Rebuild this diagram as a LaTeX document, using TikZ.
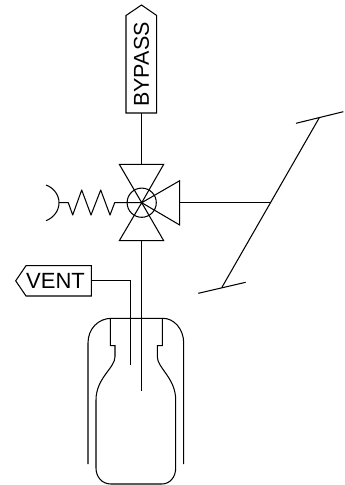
\documentclass[tikz,border=0pt]{standalone}
\usepackage{fontspec}
\setmainfont{Liberation Sans}
\tikzset{
  ln/.style={draw=black,line width=1.05pt,line join=miter},
  tagtext/.style={inner sep=0pt,text=black,anchor=center}
}
\begin{document}
\begin{tikzpicture}[x=1pt,y=-1pt]
\useasboundingbox (0,0) rectangle (345,485);
% key points
\coordinate (vc) at (141.7,202.7);
\coordinate (bypassfoot) at (141.7,113);
\coordinate (venteast) at (91.3,280.5);
\coordinate (ventelbow) at (130.7,280.5);
\coordinate (ventend) at (130.7,365);
\coordinate (dipend) at (141.7,390.5);
\coordinate (rodtop) at (319.3,117.7);
\coordinate (rodbot) at (221.7,287.7);
\coordinate (rodmid) at (270,202.7);
% BYPASS tag
\draw[ln] (126,113) -- (126,15.5) -- (141.5,5) -- (156.7,15.5) -- (156.7,113) -- cycle;
\node[tagtext,rotate=90,font=\fontsize{21.5}{21.5}\selectfont] (bypass) at (141.5,64.5) {BYPASS};
% VENT tag
\draw[ln] (91.3,265.7) -- (26,265.7) -- (15.7,280.8) -- (26,296) -- (91.3,296) -- cycle;
\node[tagtext,font=\fontsize{22}{22}\selectfont] (vent) at (55.5,281) {VENT};
% valve
\draw[ln] (bypassfoot) -- (141.7,164.3);
\draw[ln] (119.3,164.3) -- (163.7,164.3) -- (vc) -- cycle;
\draw[ln] (119.3,240.7) -- (163.7,240.7) -- (vc) -- cycle;
\draw[ln] (179.7,180.7) -- (179.7,225) -- (vc) -- cycle;
\draw[ln] (vc) circle[radius=14.6];
\draw[ln] (179.7,202.7) -- (rodmid);
% actuator spring
\draw[ln] (46,185) .. controls (54,188) and (59,195) .. (59,202.7) .. controls (59,210.5) and (54,217.5) .. (46,220.7);
\draw[ln,line join=round] (59,202.7) -- (68.3,202.7) -- (72.7,215) -- (81.7,190) -- (91,215) -- (100.7,190) -- (110,215) -- (114.7,202.7) -- (vc);
% slanted rod
\draw[ln] (rodtop) -- (rodbot);
\draw[ln] (296,123.3) -- (343.3,111.7);
\draw[ln] (198.3,293.3) -- (245.7,282.3);
% connectors into the bottle
\draw[ln] (141.7,240.7) -- (dipend);
\draw[ln] (venteast) -- (ventelbow) -- (ventend);
% jacket
\draw[ln] (88,464) -- (88,343) .. controls (88,329) and (98,318.3) .. (111.7,318.3) -- (163,318.3) .. controls (174,318.3) and (183.7,329) .. (183.7,343) -- (183.7,464);
% bottle
\draw[ln] (110.3,318.3) -- (110.3,345.7) -- (115,345.7) -- (115,356.7)
  .. controls (115,368) and (96,378) .. (96,400) -- (96,468)
  .. controls (96,477) and (102,484) .. (111,484) -- (161.7,484)
  .. controls (170,484) and (175.7,477) .. (175.7,468) -- (175.7,400)
  .. controls (175.7,378) and (157.3,368) .. (157.3,356.7) -- (157.3,345.7) -- (162.3,345.7) -- (162.3,318.3);
\end{tikzpicture}
\end{document}
